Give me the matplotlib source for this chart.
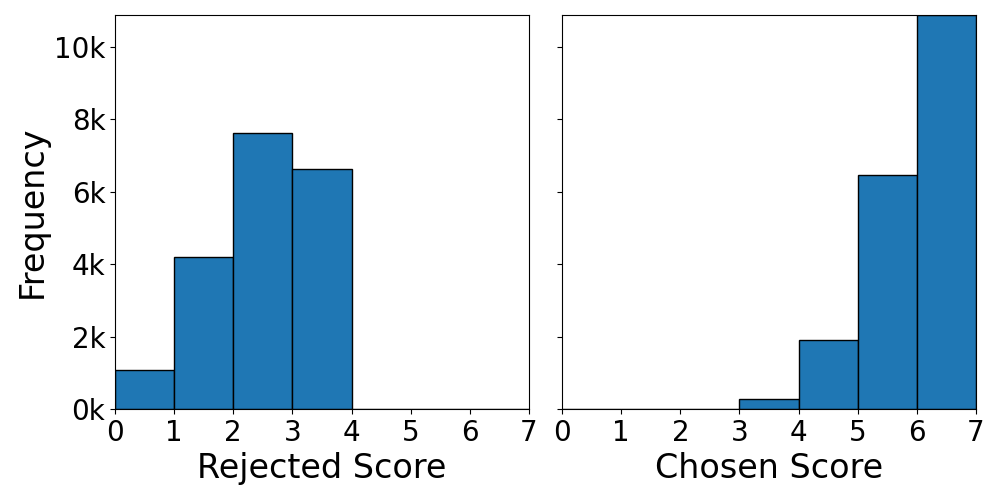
import numpy as np
import matplotlib.pyplot as plt
from matplotlib.ticker import FuncFormatter

# score bins 0..7, counts
bins = [0, 1, 2, 3, 4, 5, 6, 7]
rejected_counts = [1080, 4200, 7620, 6630, 0, 0, 0]
chosen_counts = [0, 0, 0, 280, 1900, 6460, 10880]

fig, axes = plt.subplots(1, 2, figsize=(10, 5), sharey=True)
plt.subplots_adjust(left=0.115, right=0.976, top=0.97, bottom=0.182, wspace=0.08)

centers = np.array(bins[:-1]) + 0.5
for ax, counts, label in zip(axes, [rejected_counts, chosen_counts], ["Rejected Score", "Chosen Score"]):
    ax.hist(centers, bins=bins, weights=counts, color='#1f77b4', edgecolor='k')
    ax.set_xlabel(label, fontsize=24)
    ax.set_xlim(0, 7)
    ax.set_xticks(bins)
    ax.tick_params(labelsize=20)

axes[0].set_ylim(0, max(chosen_counts))
axes[0].yaxis.set_major_formatter(FuncFormatter(lambda v, p: f"{int(v / 1000)}k"))
axes[0].set_ylabel("Frequency", fontsize=24)

plt.savefig("out.png")
